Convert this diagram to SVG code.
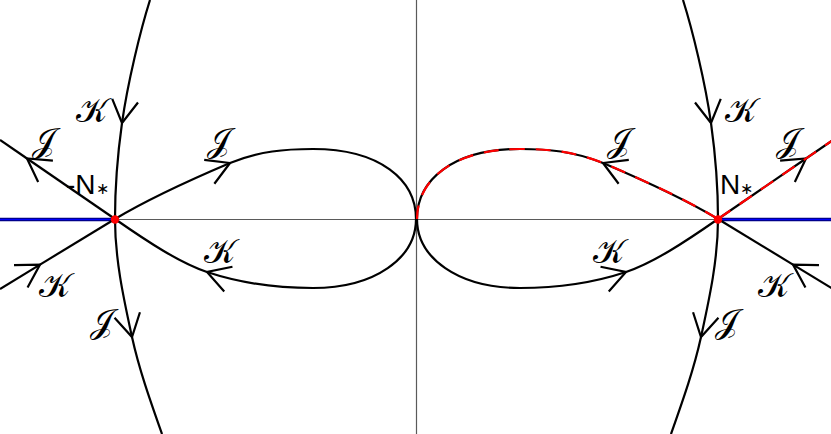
<svg xmlns="http://www.w3.org/2000/svg" width="831" height="434" viewBox="0 0 831 434">
<defs>
<style>
.ax{stroke:#5a5a5a;stroke-width:1.2;fill:none}
.blueo{stroke:#00008c;stroke-width:3.6;fill:none}
.bluei{stroke:#0000ff;stroke-width:1.2;fill:none}
.c{stroke:#000;stroke-width:2.2;fill:none;stroke-linecap:butt}
.ca{stroke:#000;stroke-width:2.2;fill:none;marker-end:url(#arr)}
.rd{stroke:#ff0000;stroke-width:2.2;fill:none;stroke-dasharray:15 11}
.lbl{font-family:"DejaVu Serif",serif;font-size:34px;fill:#000;text-anchor:middle}
.lbl2{font-family:"DejaVu Sans",sans-serif;font-size:34px;fill:#000;text-anchor:middle}
.nl{font-family:"Liberation Sans",Arial,sans-serif;font-size:28px;fill:#000}
.dot{fill:#ff0000}
</style>
<marker id="arr" markerUnits="userSpaceOnUse" orient="auto" markerWidth="40" markerHeight="40" viewBox="-30 -20 40 40" refX="0" refY="0" overflow="visible">
<path d="M-22.5,-13 L0,0 L-22.5,13" fill="none" stroke="#000" stroke-width="2.2"/>
</marker>
</defs>
<rect width="831" height="434" fill="#fff"/>
<g id="axes">
<line class="ax" x1="0" y1="219.5" x2="831" y2="219.5"/>
<line class="ax" x1="416.5" y1="0" x2="416.5" y2="434"/>
<line class="blueo" x1="0" y1="219.5" x2="115" y2="219.5"/>
<line class="bluei" x1="0" y1="219.5" x2="115" y2="219.5"/>
<line class="blueo" x1="718" y1="219.5" x2="831" y2="219.5"/>
<line class="bluei" x1="718" y1="219.5" x2="831" y2="219.5"/>
</g>
<g id="connectors">
<g id="left-connectors">
<path class="ca" d="M115,219 L27,158.5"/>
<path class="c" d="M27,158.5 L0,140"/>
<path class="ca" d="M0,289 L40,264.6"/>
<path class="c" d="M40,264.6 L115,219"/>
<path class="ca" d="M115,219 C150,198 190,180 230,163"/>
<path class="c" d="M230,163 C260,151 285,149 313,149 C380,149 416,180 416,219"/>
<path class="ca" d="M416,219 C416,258 375,288 313,288 C275,288 240,283 207,272"/>
<path class="c" d="M207,272 C180,263 148,242 115,219"/>
<path class="ca" d="M150,0 C140.5,30 127.6,83 122,123"/>
<path class="c" d="M122,123 C117.1,158 115,190 115,219"/>
<path class="ca" d="M115,219 C115,260 124,300 132,337"/>
<path class="c" d="M132,337 C139,369 150,400 162,434"/>
</g>
<g id="right-connectors" transform="matrix(-1,0,0,1,833,0)">
<path class="ca" d="M115,219 L27,158.5"/>
<path class="c" d="M27,158.5 L0,140"/>
<path class="ca" d="M0,289 L40,264.6"/>
<path class="c" d="M40,264.6 L115,219"/>
<path class="ca" d="M115,219 C150,198 190,180 230,163"/>
<path class="c" d="M230,163 C260,151 285,149 313,149 C380,149 416,180 416,219"/>
<path class="ca" d="M416,219 C416,258 375,288 313,288 C275,288 240,283 207,272"/>
<path class="c" d="M207,272 C180,263 148,242 115,219"/>
<path class="ca" d="M150,0 C140.5,30 127.6,83 122,123"/>
<path class="c" d="M122,123 C117.1,158 115,190 115,219"/>
<path class="ca" d="M115,219 C115,260 124,300 132,337"/>
<path class="c" d="M132,337 C139,369 150,400 162,434"/>
<path class="rd" d="M115,219 L0,140"/>
<path class="rd" d="M115,219 C150,198 190,180 230,163 C260,151 285,149 313,149 C380,149 416,180 416,219"/>
</g>
</g>
<g id="node-minusN">
<circle class="dot" cx="115" cy="219.5" r="4.2"/>
<text class="nl" x="66" y="194">-N<tspan font-size="16">∗</tspan></text>
</g>
<g id="node-N">
<circle class="dot" cx="718" cy="219.5" r="4.2"/>
<text class="nl" x="720" y="194">N<tspan font-size="16">∗</tspan></text>
</g>
<g id="labels">
<text class="lbl2" x="92" y="122">𝒦</text>
<text class="lbl2" x="43" y="152">𝒥</text>
<text class="lbl2" x="218" y="152">𝒥</text>
<text class="lbl2" x="55" y="297">𝒦</text>
<text class="lbl2" x="101" y="333">𝒥</text>
<text class="lbl2" x="220" y="263">𝒦</text>
<text class="lbl" x="741" y="122">𝒦</text>
<text class="lbl" x="618" y="152">𝒥</text>
<text class="lbl" x="787" y="152">𝒥</text>
<text class="lbl" x="609" y="263">𝒦</text>
<text class="lbl" x="774" y="297">𝒦</text>
<text class="lbl" x="726" y="333">𝒥</text>
</g>
</svg>
